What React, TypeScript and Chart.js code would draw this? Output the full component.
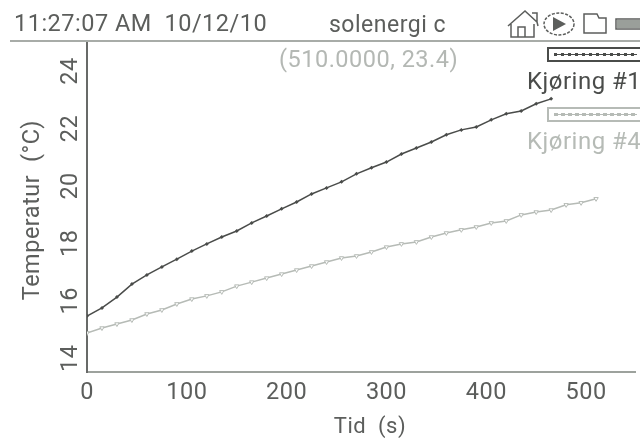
import React, { useEffect, useRef } from "react";
import { Chart, registerables } from "chart.js";

Chart.register(...registerables);

const times = Array.from({ length: 35 }, (_, i) => i * 15);
const run1 = [15.36,15.64,16.02,16.47,16.79,17.07,17.34,17.62,17.87,18.11,18.32,18.6,18.84,19.09,19.33,19.61,19.82,20.03,20.31,20.52,20.72,21.0,21.21,21.42,21.67,21.84,21.94,22.19,22.4,22.5,22.75,22.92];
const run4 = [14.77,14.94,15.08,15.22,15.43,15.57,15.78,15.95,16.06,16.2,16.4,16.54,16.68,16.82,16.96,17.1,17.24,17.38,17.45,17.59,17.76,17.87,17.94,18.11,18.25,18.36,18.46,18.6,18.67,18.88,18.98,19.05,19.23,19.3,19.44];
const xTicks = [0, 100, 200, 300, 400, 500];
const yTicks = [14, 16, 18, 20, 22, 24];
const seriesNames = ["Kjøring #1", "Kjøring #4"];
const headerTime = "11:27:07 AM  10/12/10";
const headerTitle = "solenergi c";
const cursorText = "(510.0000, 23.4)";
const xTitle = "   Tid  (s)";
const yTitle = "Temperatur  (°C) ";

const FONT = "Roboto";
const DARK = "#4a4c4a";
const LIGHT = "#b6bbb6";
const TEXT = "#5c5e5c";
const SPACING = "0.5px";

const decor = {
  id: "decor",
  beforeUpdate(chart: any) {
    chart.ctx.letterSpacing = SPACING;
  },
  beforeDraw(chart: any) {
    chart.ctx.letterSpacing = SPACING;
  },
  afterDraw(chart: any) {
    const c = chart.ctx;
    c.save();
    c.textBaseline = "middle";
    c.textAlign = "left";
    c.font = `23.5px ${FONT}`;
    c.fillStyle = TEXT;
    c.letterSpacing = "0.5px";
    c.fillText(headerTime, 14, 25);
    c.font = `23px ${FONT}`;
    c.fillText(headerTitle, 329, 26);
    c.fillStyle = "#a8aca8";
    c.fillRect(10, 40, 630, 2);
    c.fillStyle = "#b4b8b4";
    c.font = `23.5px ${FONT}`;
    c.letterSpacing = "0.5px";
    c.fillText(cursorText, 279, 61);

    // legend
    c.font = `24px ${FONT}`;
    c.letterSpacing = "0.5px";
    c.fillStyle = DARK;
    c.fillText(seriesNames[0], 527, 83);
    c.fillStyle = LIGHT;
    c.fillText(seriesNames[1], 527, 143);
    c.lineWidth = 2;
    c.strokeStyle = DARK;
    c.strokeRect(548, 48, 100, 13);
    c.strokeStyle = LIGHT;
    c.strokeRect(548, 108, 100, 13);
    for (let x = 554; x < 637; x += 7) {
      c.fillStyle = DARK;
      c.fillRect(x, 53, 3, 3);
      c.strokeStyle = LIGHT;
      c.lineWidth = 1;
      c.strokeRect(x + 0.5, 113.5, 3, 2);
    }
    c.fillStyle = DARK;
    c.fillRect(554, 54, 83, 1);
    c.fillStyle = LIGHT;
    c.fillRect(554, 114, 83, 1);

    // toolbar icons
    c.strokeStyle = "#5c5e5c";
    c.lineWidth = 1.5;
    c.beginPath();
    c.moveTo(508, 26); c.lineTo(525, 11); c.lineTo(537, 22); c.lineTo(537, 13); c.lineTo(532, 13);
    c.moveTo(537, 22); c.lineTo(538, 26);
    c.moveTo(511, 24); c.lineTo(511, 37); c.lineTo(534, 37); c.lineTo(534, 24);
    c.moveTo(518, 37); c.lineTo(518, 27); c.lineTo(525, 27); c.lineTo(525, 37);
    c.stroke();
    c.setLineDash([3, 1.5]);
    c.beginPath();
    c.ellipse(559, 24, 15, 11, 0, 0, Math.PI * 2);
    c.stroke();
    c.setLineDash([]);
    c.fillStyle = "#5c5e5c";
    c.beginPath();
    c.moveTo(553, 17); c.lineTo(566, 24); c.lineTo(553, 31); c.closePath();
    c.fill();
    c.beginPath();
    c.moveTo(584, 33); c.lineTo(584, 14); c.lineTo(597, 14); c.lineTo(599, 18); c.lineTo(606, 18); c.lineTo(606, 33); c.closePath();
    c.stroke();
    c.strokeRect(616, 19, 30, 10);
    c.fillStyle = "#9a9f9a";
    c.fillRect(617, 20, 23, 8);
    c.restore();
  },
};

export default function App() {
  const ref = useRef<HTMLCanvasElement>(null);
  useEffect(() => {
    document.body.style.margin = "0";
    document.body.style.background = "#fff";
    const chart = new Chart(ref.current!, {
      type: "line",
      data: {
        labels: times,
        datasets: [
          {
            label: seriesNames[0],
            data: run1.map((y, i) => ({ x: times[i], y })),
            borderColor: DARK,
            backgroundColor: DARK,
            borderWidth: 1.5,
            pointStyle: "rectRot",
            pointRadius: 2,
            pointBorderWidth: 0,
            tension: 0,
          },
          {
            label: seriesNames[1],
            data: run4.map((y, i) => ({ x: times[i], y })),
            borderColor: LIGHT,
            backgroundColor: "#ffffff",
            borderWidth: 1.5,
            pointStyle: "triangle",
            pointRotation: 180,
            pointRadius: 2.5,
            pointBorderWidth: 1,
            tension: 0,
          },
        ],
      },
      options: {
        animation: false,
        responsive: false,
        layout: { padding: { top: 42, left: 0, right: 0, bottom: 0 } },
        plugins: { legend: { display: false }, tooltip: { enabled: false } },
        scales: {
          x: {
            type: "linear",
            min: 0,
            max: 549,
            afterBuildTicks: (s: any) => { s.ticks = xTicks.map((value) => ({ value })); },
            afterFit: (s: any) => { s.height = 70; },
            grid: { display: false, drawTicks: false },
            border: { color: "#9da29d", width: 2 },
            ticks: { color: TEXT, font: { family: FONT, size: 23.5 }, padding: 7, maxRotation: 0, autoSkip: false },
            title: { display: true, text: xTitle, color: TEXT, font: { family: FONT, size: 22 }, padding: { top: 0, bottom: 1 } },
          },
          y: {
            min: 13.41,
            max: 24.9,
            afterBuildTicks: (s: any) => { s.ticks = yTicks.map((value) => ({ value })); },
            afterFit: (s: any) => { s.width = 87; },
            grid: { display: false, drawTicks: false },
            border: { color: "#686a68", width: 2 },
            ticks: { color: TEXT, font: { family: FONT, size: 23.5 }, padding: -1, minRotation: 90, maxRotation: 90, autoSkip: false, crossAlign: "center", callback: (v: any) => `${v} ` },
            title: { display: true, text: yTitle, color: TEXT, font: { family: FONT, size: 23.5 }, padding: { top: 19, bottom: 0 } },
          },
        },
      },
      plugins: [decor],
    } as any);
    return () => chart.destroy();
  }, []);
  return <canvas ref={ref} width={640} height={442} style={{ position: "fixed", left: 0, top: 0, display: "block" }} />;
}
